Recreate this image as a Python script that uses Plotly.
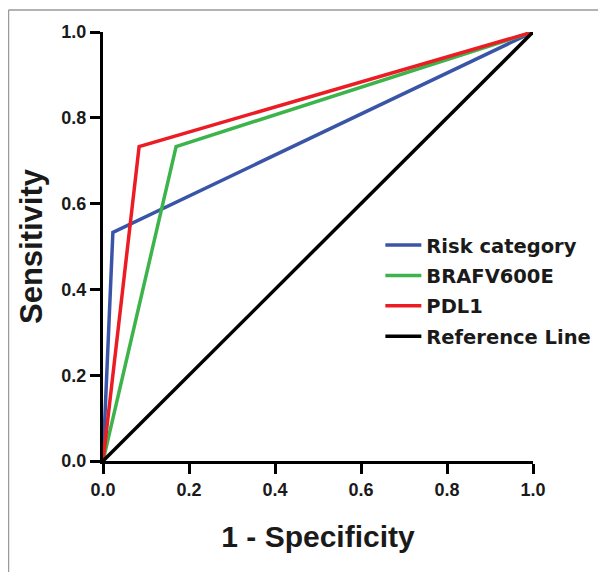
import plotly.graph_objects as go

# ROC curve data (1 - Specificity, Sensitivity)
risk_x = [0.0, 0.023, 1.0]
risk_y = [0.0, 0.533, 1.0]
braf_x = [0.0, 0.17, 1.0]
braf_y = [0.0, 0.733, 1.0]
pdl1_x = [0.0, 0.084, 1.0]
pdl1_y = [0.0, 0.733, 1.0]
ref_x = [0.0, 1.0]
ref_y = [0.0, 1.0]

series_names = ["Risk category", "BRAFV600E", "PDL1", "Reference Line"]
series_colors = ["#3a55a8", "#3cb44b", "#ec1c24", "#000000"]
tick_vals = [0.0, 0.2, 0.4, 0.6, 0.8, 1.0]
tick_text = ["0.0", "0.2", "0.4", "0.6", "0.8", "1.0"]

fig = go.Figure()
for i, (xs, ys) in enumerate([(risk_x, risk_y), (braf_x, braf_y), (pdl1_x, pdl1_y), (ref_x, ref_y)]):
    fig.add_trace(go.Scatter(
        x=xs, y=ys, mode="lines", name=series_names[i],
        line=dict(color=series_colors[i], width=3.5),
        legendgroup=str(i), cliponaxis=False,
    ))

font_family = "Liberation Sans, Arial, sans-serif"

axis_common = dict(
    range=[0, 1], tickvals=tick_vals, ticktext=tick_text,
    showgrid=False, zeroline=False, showline=True, linecolor="black", linewidth=3,
    ticks="outside", ticklen=10, tickwidth=2.5, tickcolor="black",
    tickfont=dict(family=font_family, size=18, color="#1a1a1a", weight="bold"),
    fixedrange=True,
)

# page body has an 8px margin; figure offset accordingly, and wide enough that
# the legend does not push the plot area narrower
fig.update_layout(
    width=620, height=564,
    margin=dict(l=95, r=95, t=24, b=111),
    paper_bgcolor="white", plot_bgcolor="white",
    showlegend=True,
    legend=dict(
        x=0.645, y=0.548, xanchor="left", yanchor="top",
        font=dict(family="DejaVu Sans, sans-serif", size=19.5, color="#1a1a1a", weight="bold"),
        bgcolor="rgba(0,0,0,0)", tracegroupgap=2, itemwidth=36,
    ),
    xaxis=dict(**axis_common, title=dict(text="1 - Specificity", standoff=28,
               font=dict(family=font_family, size=30, color="#1a1a1a", weight="bold"))),
    yaxis=dict(**axis_common, title=dict(text="Sensitivity", standoff=10,
               font=dict(family=font_family, size=31, color="#1a1a1a", weight="bold"))),
    shapes=[
        dict(type="line", xref="paper", yref="paper", x0=-0.2198, x1=-0.2198, y0=1.0513, y1=-0.28,
             line=dict(color="#9a9a9a", width=1.5)),
        dict(type="line", xref="paper", yref="paper", x0=-0.2198, x1=1.3, y0=1.0513, y1=1.0513,
             line=dict(color="#9a9a9a", width=1.5)),
    ],
)

fig.write_html("out.html")
